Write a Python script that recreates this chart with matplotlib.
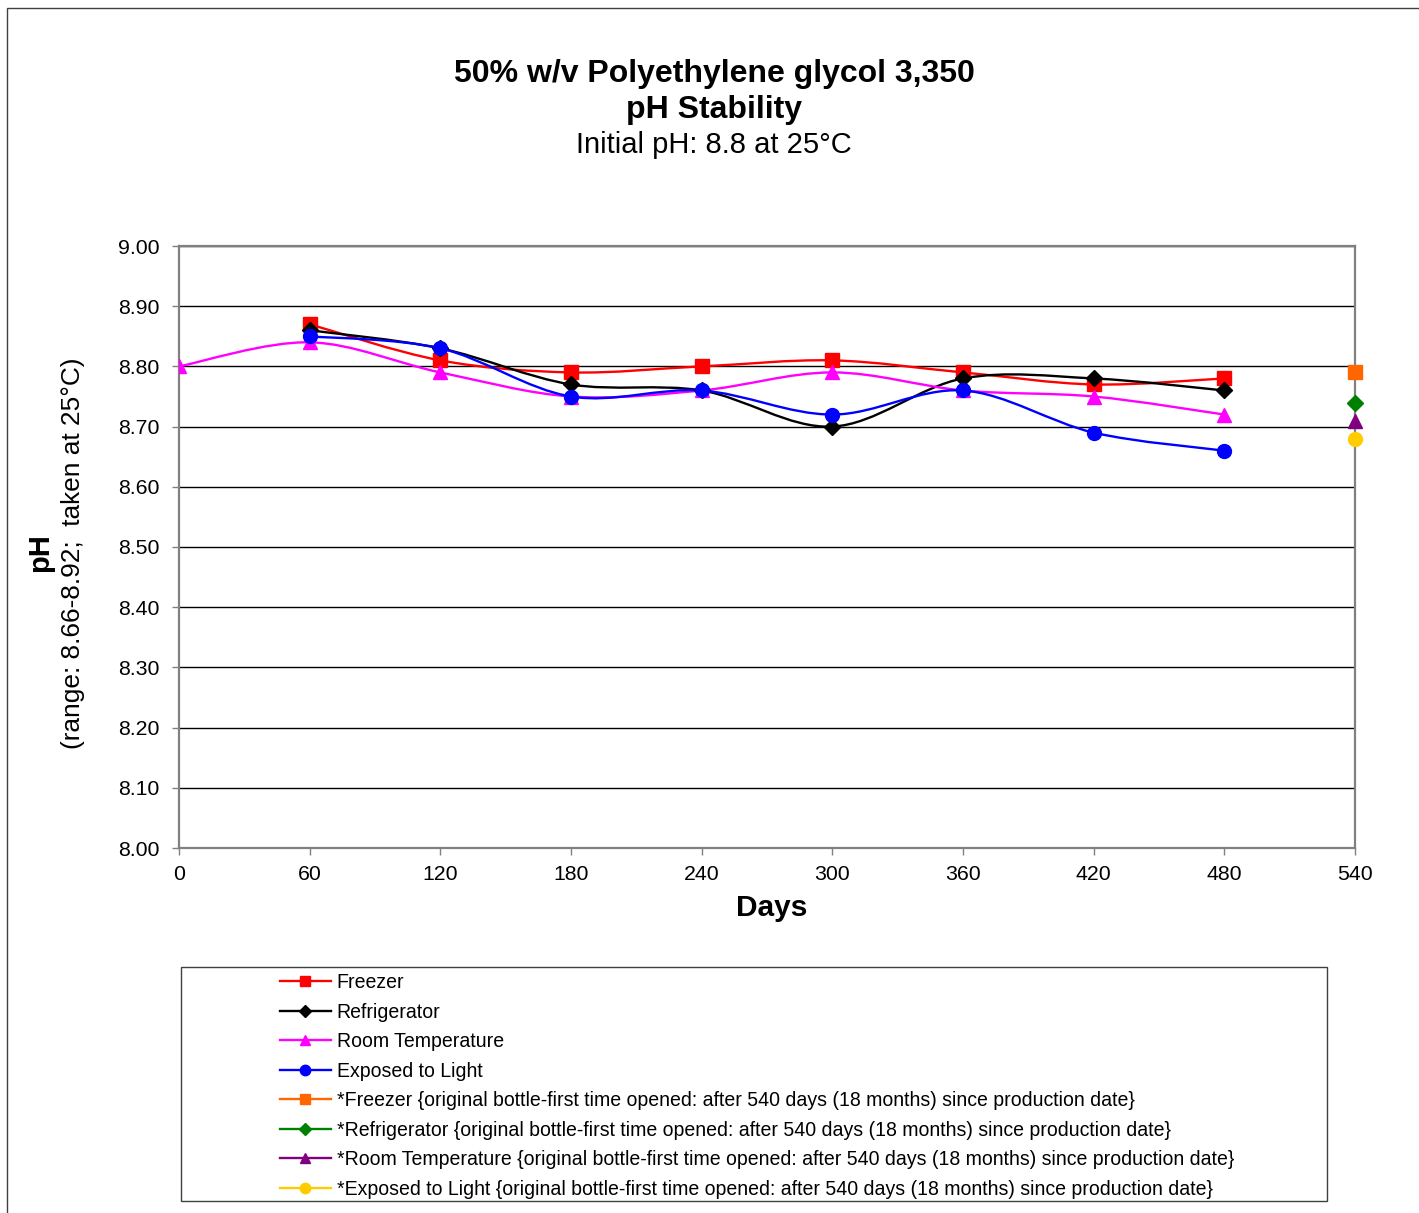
import matplotlib
matplotlib.use("Agg")
import matplotlib.pyplot as plt
from matplotlib.path import Path
from matplotlib.patches import PathPatch, Rectangle
from matplotlib.lines import Line2D
from matplotlib.ticker import FormatStrFormatter, MultipleLocator

plt.rcParams["font.family"] = ["Liberation Sans", "DejaVu Sans"]

# data
days = [0, 60, 120, 180, 240, 300, 360, 420, 480]
freezer = [None, 8.87, 8.81, 8.79, 8.80, 8.81, 8.79, 8.77, 8.78]
refrigerator = [None, 8.86, 8.83, 8.77, 8.76, 8.70, 8.78, 8.78, 8.76]
room_temp = [8.80, 8.84, 8.79, 8.75, 8.76, 8.79, 8.76, 8.75, 8.72]
light = [None, 8.85, 8.83, 8.75, 8.76, 8.72, 8.76, 8.69, 8.66]

day_opened = 540
opened_values = [8.79, 8.74, 8.71, 8.68]

main_labels = ["Freezer", "Refrigerator", "Room Temperature", "Exposed to Light"]
opened_labels = [
    "*Freezer {original bottle-first time opened: after 540 days (18 months) since production date}",
    "*Refrigerator {original bottle-first time opened: after 540 days (18 months) since production date}",
    "*Room Temperature {original bottle-first time opened: after 540 days (18 months) since production date}",
    "*Exposed to Light {original bottle-first time opened: after 540 days (18 months) since production date}",
]

main_colors = ["#FF0000", "#000000", "#FF00FF", "#0000FF"]
opened_colors = ["#FF6600", "#008000", "#800080", "#FFCC00"]
markers = ["s", "D", "^", "o"]
msizes = [10, 8, 10, 10]


def smooth_path(xs, ys):
    """Excel-like smoothed line as cubic bezier segments"""
    pts = list(zip(xs, ys))
    verts = [pts[0]]
    codes = [Path.MOVETO]
    n = len(pts)
    for i in range(n - 1):
        p0 = pts[i - 1] if i > 0 else pts[i]
        p1 = pts[i]
        p2 = pts[i + 1]
        p3 = pts[i + 2] if i + 2 < n else pts[i + 1]
        c1 = (p1[0] + (p2[0] - p0[0]) / 6, p1[1] + (p2[1] - p0[1]) / 6)
        c2 = (p2[0] - (p3[0] - p1[0]) / 6, p2[1] - (p3[1] - p1[1]) / 6)
        verts += [c1, c2, p2]
        codes += [Path.CURVE4] * 3
    return Path(verts, codes)


W, H = 1419, 1213
fig = plt.figure(figsize=(W / 100, H / 100), dpi=100)

# outer chart frame
fig.patches.append(Rectangle((7 / W, -0.02), 1.05, 1 - 8 / H + 0.02, transform=fig.transFigure,
                             fill=False, edgecolor="#404040", linewidth=1.0))

ax = fig.add_axes([179 / W, 1 - 848 / H, 1176 / W, 602 / H])

series = [freezer, refrigerator, room_temp, light]
for vals, col, mk, ms in zip(series, main_colors, markers, msizes):
    xs = [d for d, v in zip(days, vals) if v is not None]
    ys = [v for v in vals if v is not None]
    ax.add_patch(PathPatch(smooth_path(xs, ys), fill=False, edgecolor=col, linewidth=1.7, zorder=3))
    ax.plot(xs, ys, linestyle="none", marker=mk, markersize=ms, color=col, zorder=4)

for val, col, mk, ms in zip(opened_values, opened_colors, markers, msizes):
    ax.plot([day_opened], [val], linestyle="none", marker=mk, markersize=ms, color=col,
            zorder=5, clip_on=False)

ax.set_xlim(0, 540)
ax.set_ylim(8.0, 9.0)
ax.xaxis.set_major_locator(MultipleLocator(60))
ax.yaxis.set_major_locator(MultipleLocator(0.1))
ax.yaxis.set_major_formatter(FormatStrFormatter("%.2f"))
ax.grid(axis="y", color="black", linewidth=1.0)
ax.set_axisbelow(True)
for sp in ax.spines.values():
    sp.set_color("#808080")
    sp.set_linewidth(1.6)
ax.tick_params(axis="both", direction="out", length=5, width=1, color="#808080",
               labelsize=15.3)
ax.tick_params(axis="x", pad=7)
ax.tick_params(axis="y", pad=9)

fig.text(772 / W, 1 - 908 / H, "Days", fontsize=21.5, fontweight="bold",
         ha="center", va="center")

fig.text(40 / W, 1 - 553 / H, "pH", rotation=90, fontsize=21, fontweight="bold",
         ha="center", va="center")
fig.text(73 / W, 1 - 553 / H, "(range: 8.66-8.92;  taken at 25\u00b0C)", rotation=90, fontsize=18.9,
         ha="center", va="center")

fig.text(714 / W, 1 - 74 / H, "50% w/v Polyethylene glycol 3,350", fontsize=23, fontweight="bold",
         ha="center", va="center")
fig.text(714 / W, 1 - 110 / H, "pH Stability", fontsize=23, fontweight="bold",
         ha="center", va="center")
fig.text(714 / W, 1 - 145 / H, "Initial pH: 8.8 at 25\u00b0C", fontsize=21,
         ha="center", va="center")

# legend box and entries
fig.patches.append(Rectangle((181 / W, 1 - 1201 / H), (1327 - 181) / W, (1201 - 967) / H,
                             transform=fig.transFigure, fill=False, edgecolor="#404040",
                             linewidth=1.0))
handles = []
for col, mk, ms in zip(main_colors, markers, msizes):
    handles.append(Line2D([], [], color=col, marker=mk, markersize=ms * 0.75, linewidth=1.7))
for col, mk, ms in zip(opened_colors, markers, msizes):
    handles.append(Line2D([], [], color=col, marker=mk, markersize=ms * 0.75, linewidth=1.7))
fig.legend(handles, main_labels + opened_labels, loc="upper left",
           bbox_to_anchor=(280 / W, 1 - 973 / H), frameon=False, fontsize=14.05,
           borderpad=0, borderaxespad=0, handlelength=2.6, handletextpad=0.3,
           labelspacing=0.54)

fig.savefig("out.png", dpi=100)
